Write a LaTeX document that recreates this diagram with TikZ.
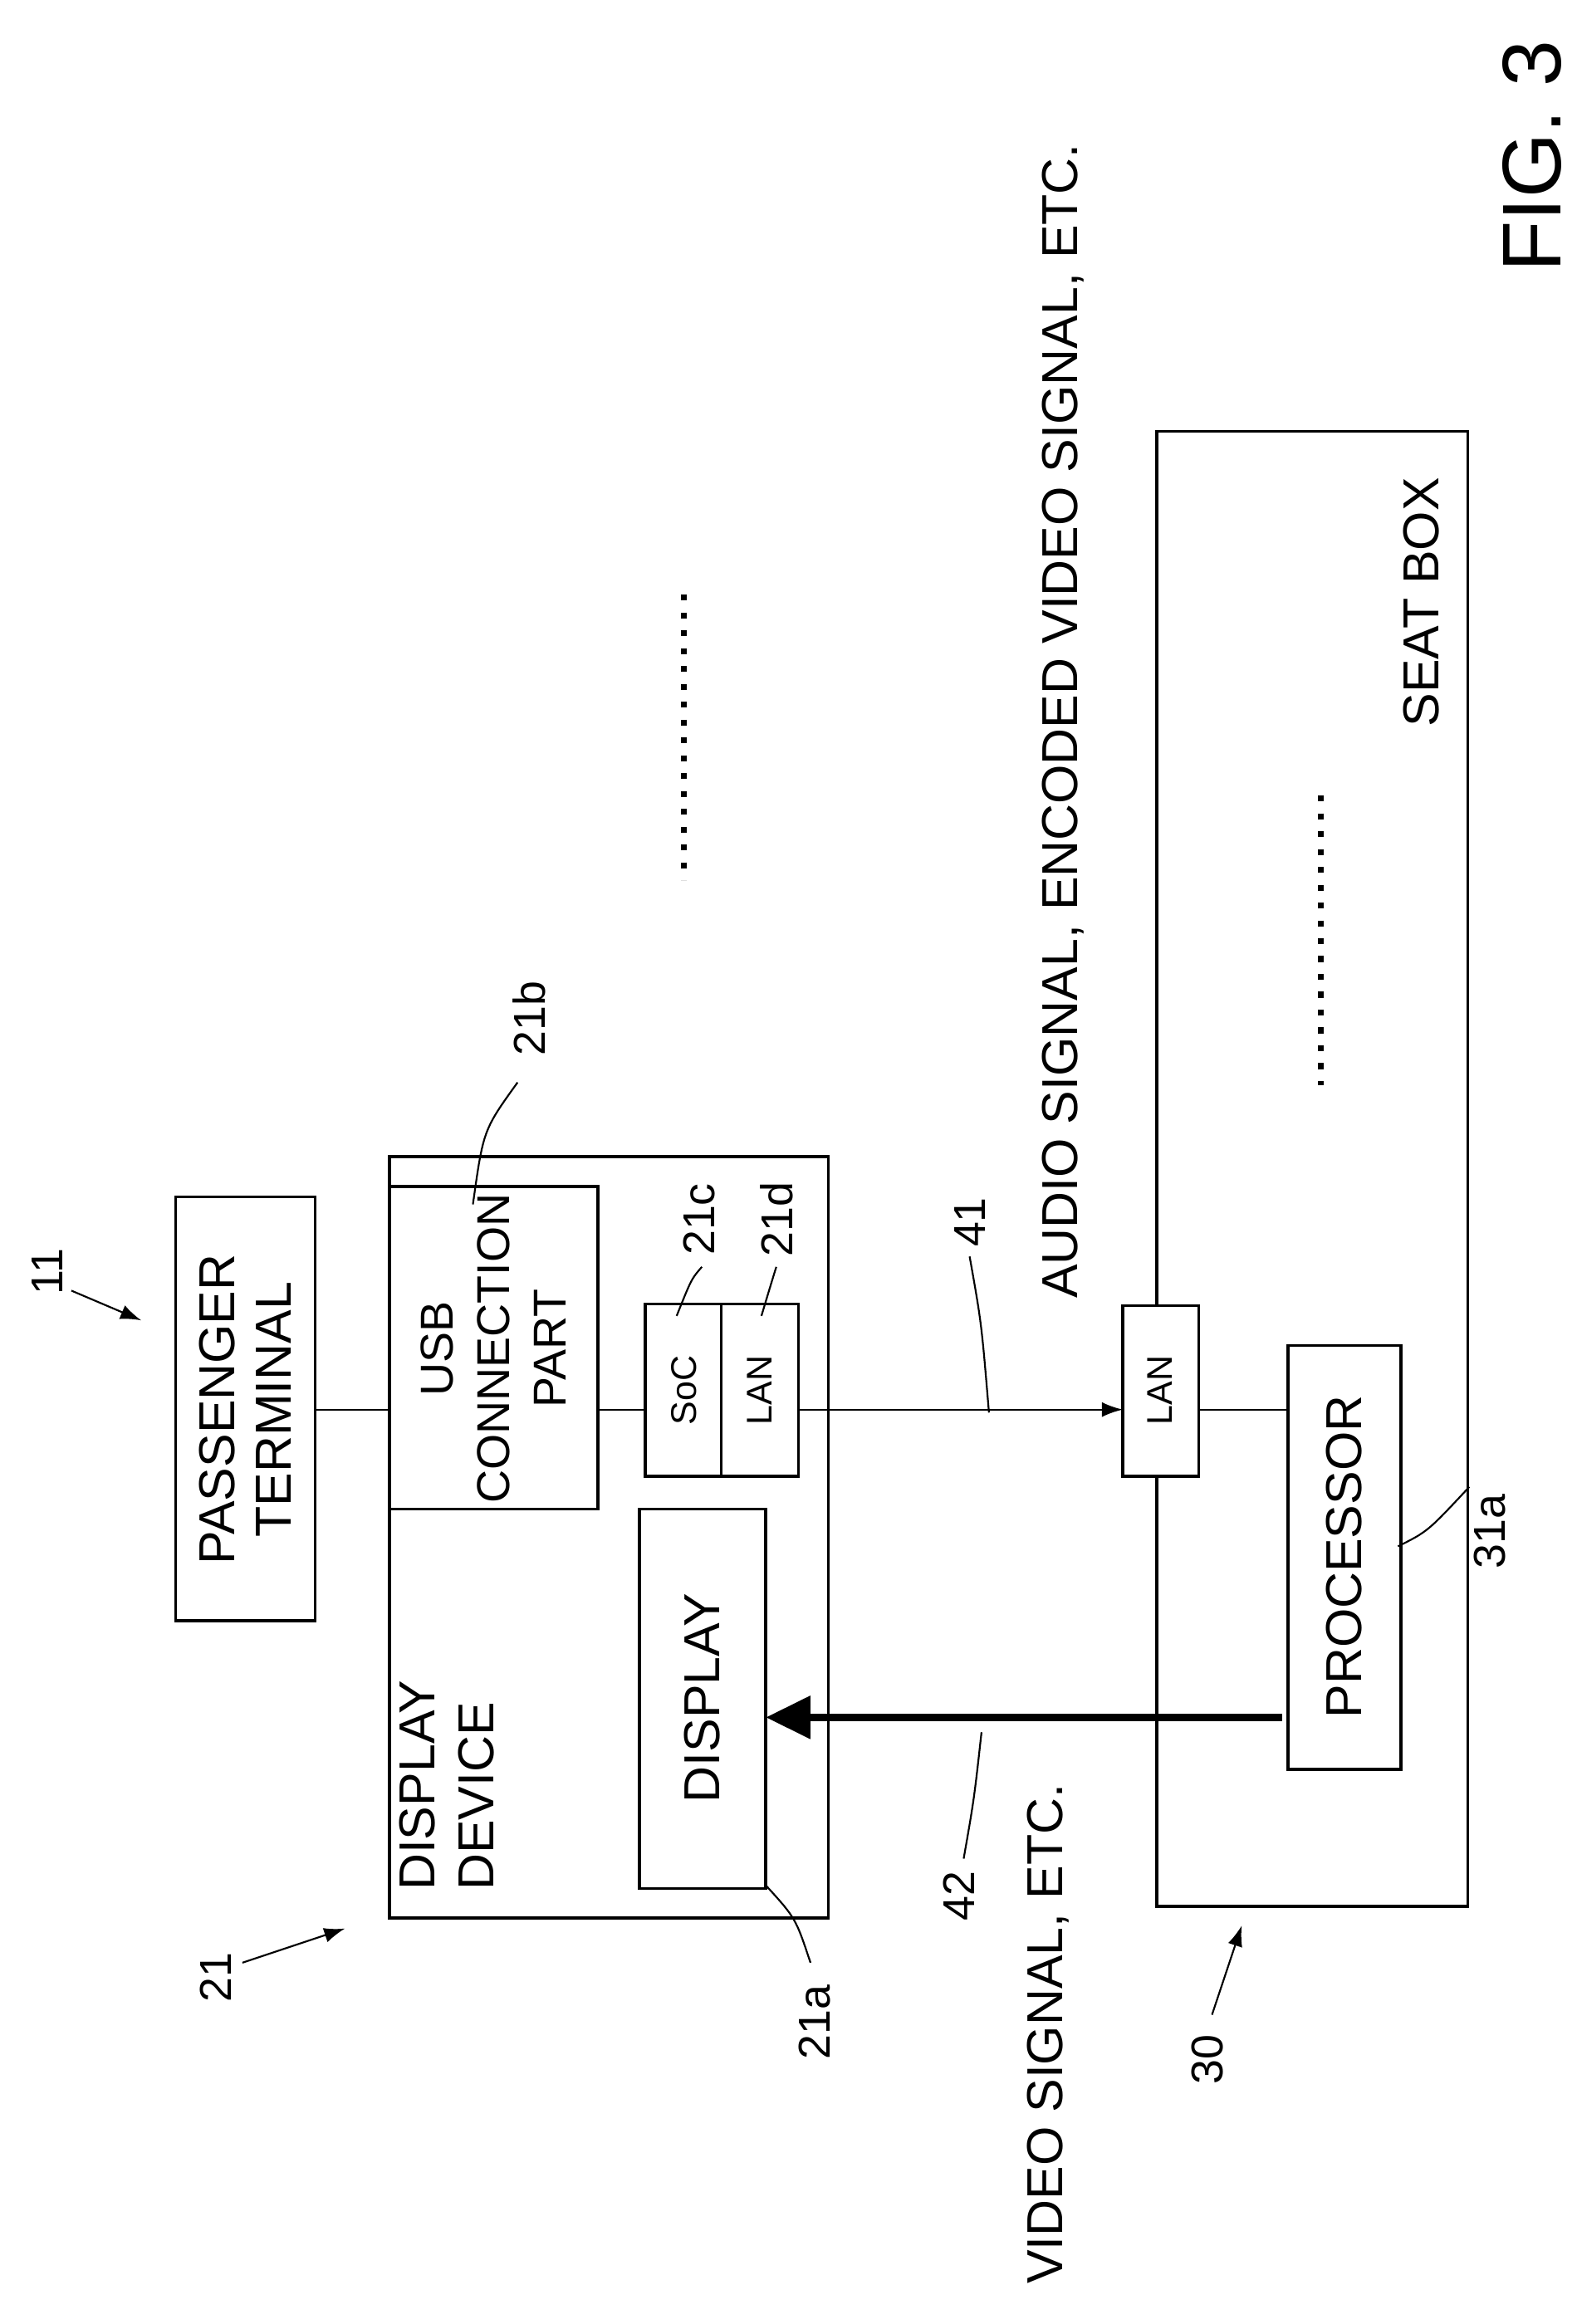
\documentclass[tikz,border=0pt]{standalone}
\usepackage{fontspec}
\setmainfont{Liberation Sans}
\usetikzlibrary{arrows.meta}
\begin{document}
\begin{tikzpicture}[x=1pt,y=-1pt,
 box/.style={draw,line width=2pt},
 t/.style={rotate=90,font=\fontsize{34}{38}\selectfont,align=center},
 s/.style={rotate=90,font=\fontsize{24}{28}\selectfont},
 num/.style={rotate=90,font=\fontsize{30}{34}\selectfont},
 ln/.style={line width=1.2pt},
 dots/.style={line width=4pt,dash pattern=on 4pt off 8pt}]
\useasboundingbox (0,0) rectangle (1060,1563);
\draw[box] (118,805) rectangle (212,1090);
\node[t] (pt) at (165,948) {PASSENGER\\TERMINAL};
\draw[box] (262,778) rectangle (557,1290);
\draw[box] (262,798) rectangle (402,1015);
\node[t,font=\fontsize{31}{38}\selectfont] (usb) at (332,907) {USB\\CONNECTION\\PART};
\node[t,align=left,anchor=south west,font=\fontsize{34}{40}\selectfont] (dd) at (336,1275) {DISPLAY\\DEVICE};
\draw[box] (430,1015) rectangle (515,1270);
\node[t] (disp) at (472,1142) {DISPLAY};
\draw[box] (434,877) rectangle (537,993);
\draw[ln] (485,877) -- (485,993);
\node[s] (soc) at (460,935) {SoC};
\node[s] (lan1) at (511,935) {LAN};
\draw[box] (778,290) rectangle (987,1282);
\draw[box,fill=white] (755,878) rectangle (806,993);
\node[s] (lan2) at (780,935) {LAN};
\draw[box] (866,905) rectangle (942,1190);
\node[t] (proc) at (904,1047) {PROCESSOR};
\draw[ln] (212,948) -- (262,948);
\draw[ln] (402,948) -- (434,948);
\draw[ln,-{Latex[length=14pt,width=10pt]}] (537,948) -- (755,948);
\draw[ln] (806,948) -- (866,948);
\draw[line width=5pt,-{Triangle[length=30pt,width=28pt]}] (862,1155) -- (515,1155);
\draw[dots] (460,400) -- (460,592);
\draw[dots] (888,535) -- (888,730);
\node[t] at (715,485) {AUDIO SIGNAL, ENCODED VIDEO SIGNAL, ETC.};
\node[t] at (705,1368) {VIDEO SIGNAL, ETC.};
\node[t] at (956,405) {SEAT BOX};
\node[rotate=90,font=\fontsize{56}{60}\selectfont] at (1030,105) {FIG. 3};
\node[num] (n11) at (32,855) {11};
\draw[ln,-{Latex[length=14pt,width=10pt]}] (48,868) -- (95,888);
\node[num] (n21) at (145,1330) {21};
\draw[ln,-{Latex[length=14pt,width=10pt]}] (163,1320) -- (232,1297);
\node[num] (n30) at (812,1385) {30};
\draw[ln,-{Latex[length=14pt,width=10pt]}] (815,1355) -- (835,1295);
\node[num] (n21b) at (356,685) {21b};
\draw[ln] (318,810) .. controls (325,760) .. (348,728);
\node[num] (n21c) at (470,820) {21c};
\draw[ln] (455,885) .. controls (465,860) .. (472,852);
\node[num] (n21d) at (522,820) {21d};
\draw[ln] (512,885) .. controls (518,865) .. (522,852);
\node[num] (n41) at (652,822) {41};
\draw[ln] (665,950) .. controls (660,890) .. (652,845);
\node[num] (n42) at (645,1275) {42};
\draw[ln] (660,1165) .. controls (655,1210) .. (648,1250);
\node[num] (n21a) at (548,1360) {21a};
\draw[ln] (515,1268) .. controls (535,1290) .. (545,1320);
\node[num] (n31a) at (1002,1030) {31a};
\draw[ln] (940,1040) .. controls (960,1030) .. (988,1000);
\end{tikzpicture}
\end{document}
